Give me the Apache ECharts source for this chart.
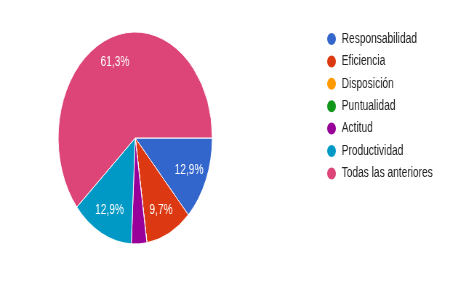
<!DOCTYPE html>
<html>
<head>
<meta charset="utf-8">
<script src="https://cdn.jsdelivr.net/npm/echarts@6/dist/echarts.min.js"></script>
<style>
  html, body { margin: 0; padding: 0; background: #fff; overflow: hidden; }
  #wrap { width: 467px; height: 285px; overflow: hidden; }
  /* the reference pie is squeezed sideways, so draw wide and compress */
  #chart { width: 642px; height: 285px; transform: scaleX(0.727); transform-origin: 0 0; }
</style>
</head>
<body>
<div id="wrap"><div id="chart"></div></div>
<script>
var categories = ['Responsabilidad', 'Eficiencia', 'Disposición', 'Puntualidad', 'Actitud', 'Productividad', 'Todas las anteriores'];
var counts = [4, 3, 0, 0, 1, 4, 19];
var colors = ['#3366cc', '#dc3912', '#ff9900', '#109618', '#990099', '#0099c6', '#dd4477'];

var font = '"Liberation Sans", Arial, sans-serif';

function pieData() {
  var temp = [];
  for (var i = 0; i < categories.length; i++) {
    temp.push({ name: categories[i], value: counts[i] });
  }
  return temp;
}

var chart = echarts.init(document.getElementById('chart'));

var option = {
  color: colors,
  animation: false,
  legend: {
    orient: 'vertical',
    left: 448,
    top: 31,
    padding: 0,
    icon: 'circle',
    itemWidth: 14,
    itemHeight: 14,
    itemGap: 6.4,
    textStyle: { fontFamily: font, fontSize: 14, lineHeight: 14, color: '#222', padding: [0, 0, 0, 2] },
    data: categories
  },
  series: [{
    type: 'pie',
    center: [186, 138],
    radius: [0, 106],
    startAngle: 0,
    clockwise: true,
    avoidLabelOverlap: false,
    itemStyle: { borderColor: '#fff', borderWidth: 1 },
    label: { show: false },
    labelLine: { show: false },
    emphasis: { disabled: true },
    data: pieData()
  }, {
    // label-only ring so the percentages sit out near 3/4 of the radius
    type: 'pie',
    silent: true,
    center: [186, 138],
    radius: [49, 106],
    startAngle: 0,
    clockwise: true,
    avoidLabelOverlap: false,
    itemStyle: { color: 'rgba(0,0,0,0)', borderWidth: 0 },
    label: {
      show: true,
      position: 'inside',
      color: '#fff',
      fontFamily: font,
      fontSize: 14,
      formatter: function (p) {
        if (p.percent < 5) return '';
        return p.percent.toFixed(1).replace('.', ',') + '%';
      }
    },
    labelLine: { show: false },
    emphasis: { disabled: true },
    data: pieData()
  }]
};

chart.setOption(option);
</script>
</body>
</html>
